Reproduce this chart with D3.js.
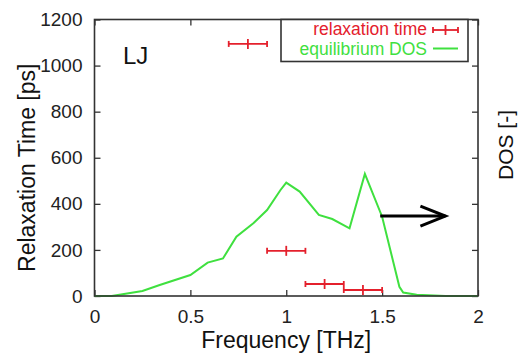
<!DOCTYPE html>
<html>
<head>
<meta charset="utf-8">
<script src="https://cdn.jsdelivr.net/npm/d3@7"></script>
<style>
  body { margin: 0; background: #fff; }
  svg text { font-family: "Liberation Sans", Arial, sans-serif; }
</style>
</head>
<body>
<div class="chart"></div>
<script>
// relaxation time points (THz, ps) with x error half-width
const relaxFreq = [0.8, 1.0, 1.2, 1.4];
const relaxTime = [1094, 196, 52, 26];
const relaxErr = [0.1, 0.1, 0.1, 0.1];

// equilibrium DOS curve, plotted in the same vertical units as the left axis
const dosFreq = [0, 0.09, 0.25, 0.34, 0.5, 0.59, 0.67, 0.74, 0.83, 0.9, 0.97, 1.0, 1.07, 1.17, 1.24, 1.33, 1.41, 1.5, 1.59, 1.61, 1.68, 1.83, 2.0];
const dosValue = [0, 0, 22, 48, 91, 145, 163, 257, 317, 373, 460, 492, 453, 352, 334, 294, 530, 344, 40, 15, 5, 0, 0];

const xTicks = [0, 0.5, 1, 1.5, 2];
const yTicks = [0, 200, 400, 600, 800, 1000, 1200];

// arrow pointing at the right-hand axis
const arrowFrom = [1.49, 347];
const arrowTo = [1.83, 347];

const width = 523, height = 355;
const red = "#e4202c", green = "#3fe03f";

const svg = d3.select(".chart").append("svg")
    .attr("width", width)
    .attr("height", height);

const x = d3.scaleLinear().domain([0, 2]).range([94.5, 478]);
const y = d3.scaleLinear().domain([0, 1200]).range([296, 19.5]);
const yRight = d3.scaleLinear().domain([0, 1200]).range([296, 19.5]);

// axes, ticks inward on all sides
svg.append("g")
    .attr("transform", `translate(0,${y(0)})`)
    .call(d3.axisBottom(x).tickValues(xTicks).tickSizeInner(-6).tickSizeOuter(0).tickPadding(14).tickFormat(d3.format("")))
    .call(g => g.select(".domain").remove());
svg.append("g")
    .attr("transform", `translate(0,${y(1200)})`)
    .call(d3.axisTop(x).tickValues(xTicks).tickSizeInner(-6).tickSizeOuter(0).tickFormat(""))
    .call(g => g.select(".domain").remove());
svg.append("g")
    .attr("transform", `translate(${x(0)},0)`)
    .call(d3.axisLeft(y).tickValues(yTicks).tickSizeInner(-6).tickSizeOuter(0).tickPadding(12).tickFormat(d3.format("d")))
    .call(g => g.select(".domain").remove());
svg.append("g")
    .attr("transform", `translate(${x(2)},0)`)
    .call(d3.axisRight(yRight).tickValues(yTicks).tickSizeInner(-6).tickSizeOuter(0).tickFormat(""))
    .call(g => g.select(".domain").remove());

svg.selectAll(".tick line").attr("stroke", "#333").attr("stroke-width", 1.3);
svg.selectAll(".tick text").attr("font-size", 19).attr("fill", "#222");

// DOS line
const line = d3.line()
    .x((d, i) => x(dosFreq[i]))
    .y(d => yRight(d));
svg.append("path")
    .datum(dosValue)
    .attr("fill", "none")
    .attr("stroke", green)
    .attr("stroke-width", 2)
    .attr("d", line);

// frame
svg.append("rect")
    .attr("x", x(0)).attr("y", y(1200))
    .attr("width", x(2) - x(0)).attr("height", y(0) - y(1200))
    .attr("fill", "none")
    .attr("stroke", "#333")
    .attr("stroke-width", 1.6);

// relaxation time error bars
const bars = svg.append("g").attr("stroke", red).attr("stroke-width", 1.8);
relaxFreq.forEach((f, i) => {
    const cy = y(relaxTime[i]);
    const x0 = x(f - relaxErr[i]), x1 = x(f + relaxErr[i]);
    bars.append("line").attr("x1", x0).attr("x2", x1).attr("y1", cy).attr("y2", cy);
    bars.append("line").attr("x1", x0).attr("x2", x0).attr("y1", cy - 3).attr("y2", cy + 3);
    bars.append("line").attr("x1", x1).attr("x2", x1).attr("y1", cy - 3).attr("y2", cy + 3);
    bars.append("line").attr("x1", x(f)).attr("x2", x(f)).attr("y1", cy - 5).attr("y2", cy + 5);
});

// arrow
const ax0 = x(arrowFrom[0]), ay = y(arrowFrom[1]), ax1 = x(arrowTo[0]);
const arrow = svg.append("g").attr("stroke", "#000").attr("stroke-width", 3).attr("fill", "none");
arrow.append("line").attr("x1", ax0).attr("x2", ax1).attr("y1", ay).attr("y2", ay);
arrow.append("path").attr("d", `M${ax1 - 25},${ay - 10}L${ax1},${ay}L${ax1 - 25},${ay + 10}`);

// LJ label
svg.append("text")
    .attr("x", 123).attr("y", 64)
    .attr("font-size", 24)
    .attr("fill", "#111")
    .text("LJ");

// legend
const leg = svg.append("g");
leg.append("rect")
    .attr("x", 281).attr("y", 19.5)
    .attr("width", 187).attr("height", 42)
    .attr("fill", "#fff")
    .attr("stroke", "#333")
    .attr("stroke-width", 1.6);
leg.append("text")
    .attr("x", 427).attr("y", 34.5)
    .attr("text-anchor", "end")
    .attr("font-size", 17.5)
    .attr("fill", red)
    .text("relaxation time");
leg.append("text")
    .attr("x", 427).attr("y", 54.5)
    .attr("text-anchor", "end")
    .attr("font-size", 17.5)
    .attr("fill", green)
    .text("equilibrium DOS");
const ls = leg.append("g").attr("stroke", red).attr("stroke-width", 1.8);
ls.append("line").attr("x1", 433).attr("x2", 458).attr("y1", 30).attr("y2", 30);
ls.append("line").attr("x1", 433).attr("x2", 433).attr("y1", 27).attr("y2", 33);
ls.append("line").attr("x1", 458).attr("x2", 458).attr("y1", 27).attr("y2", 33);
ls.append("line").attr("x1", 445.5).attr("x2", 445.5).attr("y1", 25).attr("y2", 35);
leg.append("line").attr("x1", 433).attr("x2", 458).attr("y1", 48.5).attr("y2", 48.5)
    .attr("stroke", green).attr("stroke-width", 2);

// axis titles
svg.append("text")
    .attr("x", (x(0) + x(2)) / 2).attr("y", 348)
    .attr("text-anchor", "middle")
    .attr("font-size", 23)
    .attr("fill", "#111")
    .text("Frequency [THz]");
svg.append("text")
    .attr("transform", `translate(35,${(y(0) + y(1200)) / 2 + 10}) rotate(-90)`)
    .attr("text-anchor", "middle")
    .attr("font-size", 23)
    .attr("fill", "#111")
    .text("Relaxation Time [ps]");
svg.append("text")
    .attr("transform", `translate(513,145) rotate(-90)`)
    .attr("text-anchor", "middle")
    .attr("font-size", 21)
    .attr("fill", "#111")
    .text("DOS [-]");
</script>
</body>
</html>
